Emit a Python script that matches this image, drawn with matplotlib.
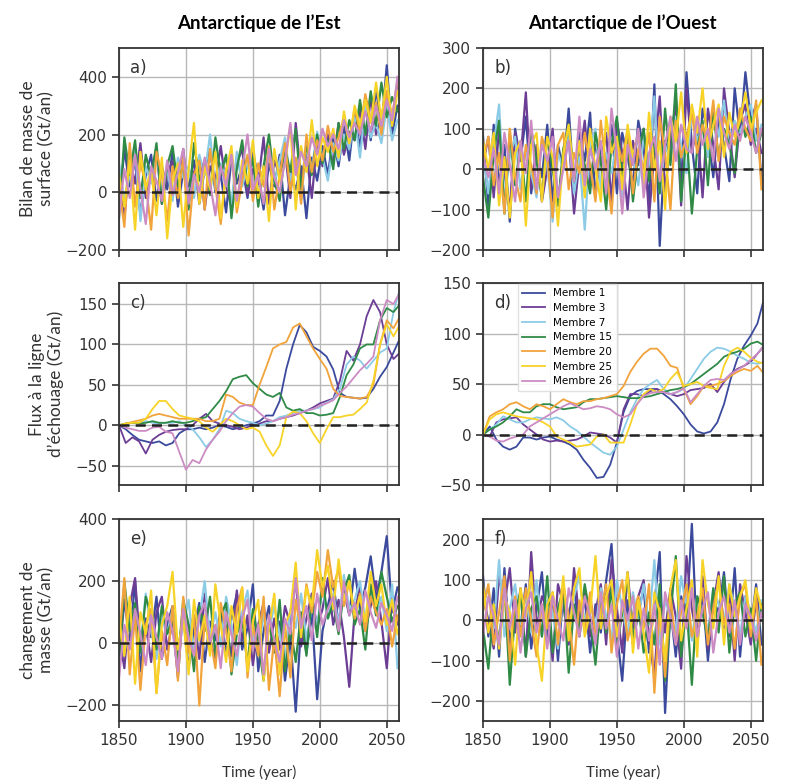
import numpy as np
import matplotlib.pyplot as plt

# Members and colours
members = ['Membre 1', 'Membre 3', 'Membre 7', 'Membre 15', 'Membre 20', 'Membre 25', 'Membre 26']
colors = ['#3b4a9c', '#6b3d94', '#8ccbe6', '#2f8a46', '#f1a33c', '#f8d327', '#cc8cc3']

# time axes
years_noisy = np.arange(1850, 2059, 4)   # annual-ish noisy series, read every 4 years
years_smooth = np.arange(1850, 2061, 5)  # grounding-line flux, read every 5 years

# a) Surface mass balance, East Antarctica (Gt/an)
a_m1 = [-60, 150, 20, 110, -80, 60, 130, -30, 90, 10,
        140, -50, 70, 20, 110, -40, 80, 150, 0, 60,
        -70, 120, 30, 90, -20, 140, 50, -60, 100, 20,
        130, -80, 60, 10, 90, -90, 120, 40, 160, 60,
        190, 90, 230, 110, 280, 150, 330, 180, 360, 220,
        440, 200, 300]
a_m3 = [40, -90, 120, 30, 170, -20, 80, 140, -40, 60,
        110, 0, 150, -30, 70, 120, -60, 90, 40, 160,
        20, -50, 100, 150, -10, 80, 30, 190, -40, 110,
        60, 140, -20, 240, 50, 130, -20, 180, 90, 200,
        100, 240, 130, 210, 180, 290, 150, 330, 200, 260,
        350, 240, 380]
a_m7 = [100, -30, 60, 150, -100, 90, 30, 130, 0, 80,
        -30, 120, 50, 90, -20, 130, 60, 200, 10, 100,
        60, -40, 140, 20, 90, 170, -20, 70, 140, 30,
        110, 190, 40, 100, -30, 160, 80, 210, 120, 40,
        170, 110, 200, 150, 260, 120, 300, 190, 240, 170,
        300, 180, 250]
a_m15 = [-90, 190, 60, 180, -20, 130, 50, 170, -40, 90,
         160, 20, 100, -60, 170, 40, 110, -10, 190, 60,
         130, -90, 80, 180, 20, 120, -50, 90, 200, 40,
         -30, 150, 70, 220, 10, 170, 60, 200, 100, 180,
         80, 240, 150, 250, 180, 320, 200, 350, 230, 380,
         260, 330, 280]
a_m20 = [20, -120, 170, -50, 100, 30, -130, 140, 60, -100,
         90, -20, 120, -150, 60, 110, -60, 150, 20, -110,
         80, 140, -70, 40, 130, -30, 100, 20, 160, -60,
         60, 170, 0, 120, -40, 200, 70, 180, 110, 230,
         140, 190, 260, 170, 290, 210, 340, 250, 310, 200,
         350, 260, 390]
a_m25 = [60, -50, 110, -130, 140, 10, 80, -80, 120, -160,
         40, 100, -120, 80, 240, -40, 90, 10, 140, -90,
         70, 160, -50, 110, 30, 180, -20, 90, -100, 150,
         40, 100, 230, -60, 160, 70, 250, 90, 190, 140,
         220, 120, 280, 170, 300, 230, 320, 240, 380, 250,
         400, 230, 350]
a_m26 = [-80, 80, -20, 130, 10, -110, 90, 40, -30, 110,
         -10, 70, 150, -40, 60, 0, 120, 30, -80, 90,
         20, 130, -30, 80, 200, 10, 60, -40, 150, 50,
         0, 110, 240, 60, 140, 90, 190, 130, 220, 160,
         200, 150, 250, 190, 240, 200, 280, 210, 300, 230,
         320, 250, 400]

# b) Surface mass balance, West Antarctica (Gt/an)
b_m1 = [80, -90, 110, -40, 60, -130, 100, 20, 130, -60,
        40, -20, 110, -80, 60, 0, 150, -50, 90, 20,
        140, -70, 60, 10, 110, -60, 90, 30, -40, 120,
        50, -80, 210, -190, 70, 20, 180, -40, 240, 60,
        -60, 150, 90, -20, 130, 60, -30, 200, 80, 240,
        120, 160, -30]
b_m3 = [10, 80, -70, 100, -10, -100, 90, 20, 190, -50,
        60, -80, 0, 100, -90, 40, 80, -110, 20, 120,
        -40, 60, 10, 90, -80, 120, 40, -100, 70, 10,
        100, -120, 40, 180, -60, 80, 160, -90, 200, 40,
        110, -70, 150, 60, -50, 200, 90, -20, 120, 160,
        60, 100, 40]
b_m7 = [40, -60, 60, 160, -80, 30, 80, -50, 50, -10,
        -70, 70, 10, -130, 40, 0, 80, -60, 30, -150,
        60, 100, -50, 40, -10, 70, -70, 90, 20, -40,
        80, 10, 180, -60, 60, 20, 130, 60, -10, 150,
        70, 110, 30, 140, 80, 170, 50, 120, 90, 130,
        160, 70, 110]
b_m15 = [-20, -120, 40, 120, -110, 90, -40, 60, -80, 100,
         20, -70, 80, 0, -90, 50, 110, -30, 70, 10,
         -60, 90, 20, -100, 60, 130, -20, 80, -80, 40,
         100, -30, 70, -60, 150, 10, 210, -80, 90, -110,
         50, 120, -40, 140, 30, 100, 60, -10, 150, 80,
         130, 40, 90]
b_m20 = [20, 80, -40, 40, -110, 100, -20, -80, 60, 10,
         -60, 80, 30, -120, 60, 90, -50, 40, -10, 90,
         10, -80, 120, 0, -110, 70, 20, 100, -60, 50,
         0, 90, -80, 130, 40, -100, 120, 30, 80, 140,
         40, 110, 60, 170, 20, 130, 90, 60, 150, 100,
         70, 170, -50]
b_m25 = [70, 0, 90, -90, 30, -120, 40, 70, -140, 60,
         90, -80, 80, 30, -140, 40, 110, -20, 70, -70,
         100, 0, -80, 130, 40, 80, -50, 110, 30, 90,
         -40, 140, 0, 70, -100, 130, 70, 190, 40, 160,
         90, 200, 50, 110, 160, 30, 140, 80, 120, 190,
         100, 140, 170]
b_m26 = [30, -20, 50, -60, 90, 10, -80, 70, -10, 120,
         -50, 60, 20, 80, -70, 0, 70, -30, 130, -40,
         50, 0, 70, -60, 150, 40, -110, 60, 10, 100,
         -70, 40, 80, -30, 60, 130, 20, 110, 50, 40,
         130, 60, 100, 20, 150, 90, 50, 110, 70, 130,
         90, 40, 100]

# c) Grounding-line flux, East Antarctica (Gt/an)
c_m1 = [0, -5, -12, -18, -20, -22, -20, -25, -22, -10,
        -5, -5, -3, -5, -3, 0, -2, -5, -3, 0,
        2, 5, 12, 12, 30, 70, 100, 124, 115, 97,
        92, 85, 69, 40, 35, 34, 33, 34, 45, 60,
        72, 90, 108]
c_m3 = [0, -22, -15, -20, -35, -18, -12, -8, -6, -5,
        -5, 0, 8, 14, 5, 2, 0, -2, -5, -3,
        0, 2, 5, 5, 8, 10, 12, 15, 18, 22,
        27, 30, 33, 55, 92, 80, 100, 135, 155, 140,
        100, 82, 90]
c_m7 = [0, 2, 3, 3, 5, 3, 2, 3, 3, 5,
        0, -5, -15, -27, -18, -5, 18, 15, 8, 5,
        3, 0, 2, 5, 10, 12, 15, 18, 18, 20,
        22, 28, 32, 45, 75, 85, 80, 70, 80, 90,
        95, 140, 170]
c_m15 = [0, 2, 3, 2, 3, 5, 3, 3, 5, 3,
         3, 5, 8, 10, 20, 30, 42, 57, 60, 62,
         52, 45, 38, 35, 40, 22, 18, 20, 15, 15,
         12, 13, 15, 35, 62, 75, 95, 100, 100, 130,
         145, 140, 150]
c_m20 = [0, 2, 4, 6, 8, 12, 14, 12, 10, 8,
         8, 8, 8, 5, 5, 8, 38, 35, 28, 25,
         25, 50, 72, 95, 100, 103, 121, 126, 110, 95,
         82, 70, 45, 36, 35, 34, 33, 35, 50, 100,
         130, 120, 135]
c_m25 = [0, 2, 3, 3, 8, 20, 30, 30, 20, 12,
         10, 8, 5, -3, -8, 0, 8, 5, 0, -5,
         -3, -8, -25, -38, -25, 10, 17, 15, 5, -10,
         -22, -5, 10, 10, 12, 13, 20, 28, 55, 100,
         125, 110, 125]
c_m26 = [0, -3, -5, -7, -7, -3, -2, -8, -10, -33,
         -55, -43, -47, -30, -18, -8, 5, 15, 23, 25,
         23, 15, 8, 5, 8, 10, 13, 15, 18, 20,
         24, 27, 31, 40, 48, 58, 68, 76, 85, 130,
         155, 150, 165]

# d) Grounding-line flux, West Antarctica (Gt/an)
d_m1 = [0, 8, -5, -12, -15, -12, -3, -3, -5, -3,
        -2, -5, -7, -10, -15, -25, -33, -43, -42, -30,
        -8, 22, 38, 43, 45, 45, 45, 40, 35, 28,
        20, 10, 3, 1, 3, 12, 30, 55, 75, 88,
        98, 110, 135]
d_m3 = [0, -2, 12, 15, 16, 17, 10, 5, 0, -5,
        -7, -6, -7, -6, -5, -2, 2, 1, 0, -3,
        -8, 25, 40, 40, 38, 43, 45, 42, 40, 38,
        40, 44, 45, 46, 50, 42, 52, 60, 65, 68,
        72, 80, 88]
d_m7 = [0, 5, 10, 18, 15, 12, 12, 15, 17, 16,
        15, 17, 14, 8, 4, -2, -8, -13, -18, -20,
        -12, 5, 22, 35, 45, 50, 54, 45, 40, 42,
        45, 55, 65, 75, 82, 86, 85, 82, 78, 75,
        71, 70, 72]
d_m15 = [0, 5, 8, 12, 18, 25, 22, 22, 28, 30,
         30, 27, 25, 26, 27, 32, 35, 35, 36, 37,
         38, 37, 36, 36, 37, 38, 40, 42, 44, 45,
         47, 50, 55, 60, 65, 70, 77, 80, 82, 85,
         90, 92, 88]
d_m20 = [0, 18, 22, 25, 30, 32, 28, 25, 30, 28,
         25, 30, 35, 32, 30, 33, 33, 35, 36, 38,
         40, 48, 62, 72, 80, 85, 85, 78, 68, 66,
         45, 30, 38, 48, 48, 50, 53, 58, 62, 65,
         63, 68, 60]
d_m25 = [0, 15, 20, 22, 20, 18, 17, 16, 15, 12,
         8, -2, -5, -8, -12, -11, -10, -2, 0, -8,
         -8, -8, 10, 30, 40, 45, 42, 45, 55, 62,
         48, 50, 52, 48, 46, 45, 68, 82, 86, 82,
         76, 72, 70]
d_m26 = [0, -2, -6, -7, -4, -2, 0, 8, 12, 16,
         20, 24, 28, 31, 28, 25, 26, 28, 27, 25,
         20, 17, 20, 30, 38, 41, 42, 42, 40, 42,
         46, 32, 40, 48, 54, 55, 54, 60, 64, 68,
         74, 80, 88]

# e) Mass change, East Antarctica (Gt/an)
e_m1 = [-60, 140, 10, 200, -90, 80, 20, 150, -50, 60,
        120, -30, 90, -80, 50, 130, -60, 70, 10, 110,
        -40, 80, 160, -20, 50, 190, -90, 40, 120, -10,
        70, -120, 20, -220, 60, -30, 100, -180, 40, 120,
        200, 60, 170, 90, 240, 110, 180, 280, 140, 230,
        345, 100, 180]
e_m3 = [30, -80, 120, 210, -20, 60, -60, 100, 150, -20,
        70, -110, 120, 40, 90, -50, 160, 20, -60, 110,
        50, -40, 170, 10, 90, -70, 60, 130, -30, 80,
        -20, 120, 60, 210, -10, 80, 160, 50, 110, 210,
        60, 140, 20, -140, 100, 180, 40, 120, 200, 70,
        -80, 150, 60]
e_m7 = [90, -30, 60, 120, -10, 160, 40, -50, 90, 30,
        110, -20, 60, 140, -40, 80, 200, 20, 100, -10,
        150, 60, -70, 100, 170, 20, -30, 90, 40, 120,
        30, -60, 110, 50, 160, 10, 120, 60, 180, 80,
        160, 60, 220, 110, 140, 200, 70, 180, 90, 150,
        40, 190, -80]
e_m15 = [-90, 200, 40, 130, -30, 150, 90, -20, 120, 30,
         80, -60, 140, 60, -90, 120, 40, 150, -40, 90,
         130, -100, 30, 80, -70, 110, 10, -120, 70, -30,
         140, -90, 50, -60, 100, -40, 150, 20, 210, 80,
         130, 30, 170, 220, 60, 110, -20, 190, 90, 230,
         150, 70, 120]
e_m20 = [0, 210, -100, 90, -150, 60, 110, -160, 40, -70,
         120, -120, 150, -30, 90, -200, 80, 20, -80, 130,
         40, -90, 110, 180, -110, 60, -40, 150, -150, 20,
         -170, 60, -110, 140, 40, 190, 100, 230, 150, 300,
         180, 240, 120, 200, 80, 160, 40, 150, 100, 60,
         110, -10, 90]
e_m25 = [80, -40, 150, -130, 100, 30, 170, -160, 60, 120,
         230, -20, 80, -100, 140, 10, 90, -40, 190, 60,
         -60, 120, 30, 180, -90, 70, 140, -120, 50, 160,
         -100, 60, 100, 260, 20, 180, 120, 300, 180, 250,
         110, 270, 140, 200, 90, 150, 70, 230, 120, 190,
         60, 140, 30]
e_m26 = [-110, 60, -20, 110, 30, -70, 90, 20, -50, 100,
         40, -90, 110, 20, -40, 90, 130, 0, 60, -80,
         100, 30, -40, 80, 140, -20, 60, -100, 90, 10,
         -60, 80, 30, 210, 50, 120, 10, 160, 60, 110,
         150, 40, 200, 90, 130, 60, 170, 100, 50, 130,
         90, 40, 150]

# f) Mass change, West Antarctica (Gt/an)
f_m1 = [110, -40, 80, -90, 130, -60, 40, -20, 90, -70,
        30, 120, -50, 60, -100, 70, 10, 90, -40, 60,
        -80, 40, -30, 100, 190, -30, -150, 50, -60, 20,
        80, -80, 40, 170, -230, 30, -90, 60, 0, 240,
        -60, 70, -100, 50, 20, 120, -40, 130, -90, 60,
        -20, 90, -60]
f_m3 = [60, 0, -70, 110, 40, 130, -30, 80, -90, 170,
        -20, 60, 30, -100, 90, 40, -60, 130, 0, 80,
        -40, 20, 90, -60, 150, 30, -80, 120, -20, 60,
        100, -40, -140, 60, -30, 80, 10, -120, 160, 30,
        -50, 110, -70, 40, 120, -20, 70, -100, 90, 20,
        -60, 50, 10]
f_m7 = [40, 80, -20, 150, -40, 30, 90, -10, 60, -30,
        100, -40, 50, 20, -70, 80, -20, 60, 110, -10,
        50, -20, 80, 10, -50, 100, 30, -40, 70, 0,
        90, -10, 150, -60, 50, 10, -30, 110, 30, -50,
        60, 20, -30, 80, 40, -10, 90, 30, -40, 60,
        20, -30, 50]
f_m15 = [-20, -120, 40, -60, 90, -160, 20, 70, -90, 30,
         60, -40, 110, -80, 30, 80, -130, 40, -20, 90,
         10, -110, 50, -30, 80, -70, 20, 110, -50, 40,
         -80, 20, -60, 90, -150, 10, 160, -90, 40, -160,
         60, 20, -50, 80, -30, 110, -80, 40, 70, -40,
         30, -100, 40]
f_m20 = [30, 90, -60, 20, 110, -100, 60, -40, 80, 0,
         -90, 40, -20, 70, -60, 90, 10, -110, 50, -30,
         70, -40, 20, 90, -80, 40, 100, -50, 10, 60,
         -20, 90, -180, 30, -140, 60, -60, 20, 90, -40,
         10, 80, -60, 30, 100, -10, 40, -70, 60, 90,
         -40, 60, -110]
f_m25 = [90, -30, 40, -70, 60, 20, -110, 80, 10, 120,
         -60, -150, 40, 70, -10, 110, -50, 80, 130, -40,
         20, 160, -20, 60, 100, -40, 30, 120, -80, 50,
         -30, -130, 70, 20, -100, 80, 150, -50, 30, 100,
         -90, 150, 40, -20, 110, -60, 90, 10, 60, 100,
         -20, 80, 30]
f_m26 = [-40, 60, 10, -60, 80, -20, 50, -80, 30, 70,
         -30, 40, -70, 60, 0, -50, 80, 20, -40, 60,
         10, -60, 70, -20, 40, -90, 50, 0, 60, -70,
         30, -50, 40, -110, 70, 10, -60, 50, -20, 80,
         -40, 30, 70, -80, 20, 60, -30, 50, -60, 40,
         10, -50, 20]

panels = [
    ('a)', years_noisy, [a_m1, a_m3, a_m7, a_m15, a_m20, a_m25, a_m26], (-200, 500), [-200, 0, 200, 400]),
    ('b)', years_noisy, [b_m1, b_m3, b_m7, b_m15, b_m20, b_m25, b_m26], (-200, 300), [-200, -100, 0, 100, 200, 300]),
    ('c)', years_smooth, [c_m1, c_m3, c_m7, c_m15, c_m20, c_m25, c_m26], (-74, 176), [-50, 0, 50, 100, 150]),
    ('d)', years_smooth, [d_m1, d_m3, d_m7, d_m15, d_m20, d_m25, d_m26], (-50, 150), [-50, 0, 50, 100, 150]),
    ('e)', years_noisy, [e_m1, e_m3, e_m7, e_m15, e_m20, e_m25, e_m26], (-250, 400), [-200, 0, 200, 400]),
    ('f)', years_noisy, [f_m1, f_m3, f_m7, f_m15, f_m20, f_m25, f_m26], (-250, 252), [-200, -100, 0, 100, 200]),
]

ylabels = ['Bilan de masse de\nsurface (Gt/an)',
           'Flux à la ligne\nd\u2019échouage (Gt/an)',
           'changement de\nmasse (Gt/an)']

fig = plt.figure(figsize=(7.86, 7.81), dpi=100)

lefts = [0.1514, 0.6145]
bottoms = [0.680, 0.379, 0.0768]
w, h = 0.356, 0.2586

axes = []
for i, (lab, yrs, series, ylim, yticks) in enumerate(panels):
    row, col = i // 2, i % 2
    ax = fig.add_axes([lefts[col], bottoms[row], w, h])
    axes.append(ax)
    lw = 1.3 if lab in ('c)', 'd)') else 1.6
    for name, c, vals in zip(members, colors, series):
        ax.plot(yrs, vals, color=c, lw=lw, label=name)
    ax.axhline(0, color='#222222', ls=(0, (4, 2.5)), lw=1.8, zorder=5)
    ax.set_xlim(1850, 2059)
    ax.set_ylim(*ylim)
    ax.set_xticks([1850, 1900, 1950, 2000, 2050])
    ax.set_yticks(yticks)
    ax.grid(True, color='#b8b8b8', lw=1.0)
    ax.set_axisbelow(True)
    for s in ax.spines.values():
        s.set_color('#333333')
        s.set_linewidth(1.3)
    ax.tick_params(direction='out', length=5, width=1.2, color='#333333',
                   labelsize=11, labelcolor='#333333')
    if row < 2:
        ax.tick_params(labelbottom=False)
    else:
        ax.set_xlabel('Time (year)', family='Lato', fontsize=11, color='#333333', labelpad=12)
    if col == 0:
        ax.set_ylabel(ylabels[row], family='Lato', fontsize=12.5, color='#333333', labelpad=8)
    ax.text(0.04, 0.9, lab, transform=ax.transAxes, fontsize=12, color='#333333',
            va='center', ha='left', zorder=6)

axes[0].set_title('Antarctique de l\u2019Est', family='Lato', fontweight='bold', fontsize=13.5, pad=14)
axes[1].set_title('Antarctique de l\u2019Ouest', family='Lato', fontweight='bold', fontsize=13.5, pad=14)

leg = axes[3].legend(loc='upper left', bbox_to_anchor=(0.125, 0.995), borderaxespad=0,
                     fontsize=7.5, handlelength=2.2, labelspacing=0.45, frameon=True,
                     fancybox=False, framealpha=0.9, edgecolor='#dddddd')
leg.set_zorder(10)

fig.savefig('out.png', dpi=100)
